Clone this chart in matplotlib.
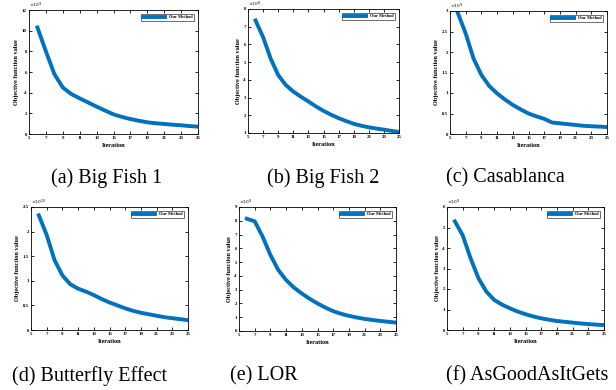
import matplotlib
matplotlib.use("Agg")
import matplotlib.pyplot as plt
import numpy as np

plt.rcParams["font.family"] = ["Liberation Serif", "DejaVu Serif"]

iters = [6, 7, 8, 9, 10, 11, 12, 13, 14, 15, 16, 17, 18, 19, 20, 21, 22, 23, 24, 25]

big_fish_1 = [10.3, 8.0, 5.8, 4.5, 3.87, 3.45, 3.05, 2.65, 2.27, 1.9, 1.65, 1.45, 1.28, 1.13, 1.04, 0.97, 0.9, 0.84, 0.77, 0.71]
big_fish_2 = [7.35, 6.41, 5.2, 4.27, 3.71, 3.34, 3.05, 2.78, 2.5, 2.25, 2.03, 1.84, 1.67, 1.52, 1.41, 1.32, 1.25, 1.19, 1.12, 1.06]
casablanca = [2.95, 2.45, 1.84, 1.44, 1.17, 0.99, 0.84, 0.71, 0.6, 0.5, 0.43, 0.37, 0.28, 0.26, 0.24, 0.22, 0.2, 0.19, 0.18, 0.17]
butterfly = [2.33, 1.93, 1.42, 1.11, 0.93, 0.84, 0.78, 0.71, 0.63, 0.56, 0.5, 0.44, 0.39, 0.35, 0.32, 0.29, 0.26, 0.24, 0.22, 0.2]
lor = [8.15, 7.96, 6.86, 5.52, 4.43, 3.7, 3.15, 2.72, 2.34, 2.0, 1.7, 1.44, 1.25, 1.1, 0.98, 0.88, 0.8, 0.73, 0.67, 0.61]
as_good = [5.3, 4.62, 3.5, 2.53, 1.88, 1.47, 1.24, 1.06, 0.9, 0.77, 0.66, 0.57, 0.5, 0.44, 0.4, 0.36, 0.32, 0.29, 0.26, 0.24]

captions = ["(a) Big Fish 1", "(b) Big Fish 2", "(c) Casablanca",
            "(d) Butterfly Effect", "(e) LOR", "(f) AsGoodAsItGets"]
series = [big_fish_1, big_fish_2, casablanca, butterfly, lor, as_good]
exponents = [9, 8, 9, 10, 9, 9]
ylims = [(0, 12), (1, 8), (0, 3), (0, 2.5), (0, 9), (0, 6)]
ysteps = [2, 1, 0.5, 0.5, 1, 1]

# axes boxes in pixels: left, top, right, bottom
boxes = [(29, 10, 198, 134), (248, 9, 399, 133), (450, 11, 607, 134),
         (31, 207, 188, 330), (239, 207, 396, 331), (447, 207, 604, 330)]
cap_pos = [(107, 178), (323, 178), (505, 178),
           (89, 376), (264, 376), (527, 376)]

W, H = 616, 390
fig = plt.figure(figsize=(W / 100, H / 100), dpi=100)

for i in range(6):
    l, t, r, b = boxes[i]
    ax = fig.add_axes([l / W, 1 - b / H, (r - l) / W, (b - t) / H])
    ax.plot(iters, series[i], color="#0072BD", linewidth=2.8, label="Our Method")
    ax.set_xlim(5, 25)
    ax.set_ylim(*ylims[i])
    ax.set_xticks(np.arange(5, 26, 2))
    lo, hi = ylims[i]
    yt = np.arange(lo, hi + 1e-9, ysteps[i])
    ax.set_yticks(yt)
    ax.set_yticklabels([("%g" % v) for v in yt])
    ax.tick_params(direction="in", top=True, right=True, length=2, width=0.6,
                   labelsize=3.5, pad=1.5)
    for lab in ax.get_xticklabels() + ax.get_yticklabels():
        lab.set_fontweight("bold")
    for s in ax.spines.values():
        s.set_linewidth(0.6)
    ax.set_xlabel("Iteration", fontsize=4.5, fontweight="bold", labelpad=2)
    ax.set_ylabel("Objective function value", fontsize=4.5, fontweight="bold", labelpad=2)
    ax.text(0.0, 1.003, r"$\times10^{%d}$" % exponents[i], transform=ax.transAxes,
            fontsize=3.2, ha="left", va="bottom")
    leg = ax.legend(loc="upper right", frameon=True, fancybox=False,
                    handlelength=5, borderpad=0.4, borderaxespad=0.8,
                    prop={"weight": "bold", "size": 3.2})
    leg.get_frame().set_edgecolor("black")
    leg.get_frame().set_linewidth(0.5)
    fig.text(cap_pos[i][0] / W, 1 - cap_pos[i][1] / H, captions[i],
             fontsize=14.5, ha="center", va="center")

fig.savefig("out.png", dpi=100)
